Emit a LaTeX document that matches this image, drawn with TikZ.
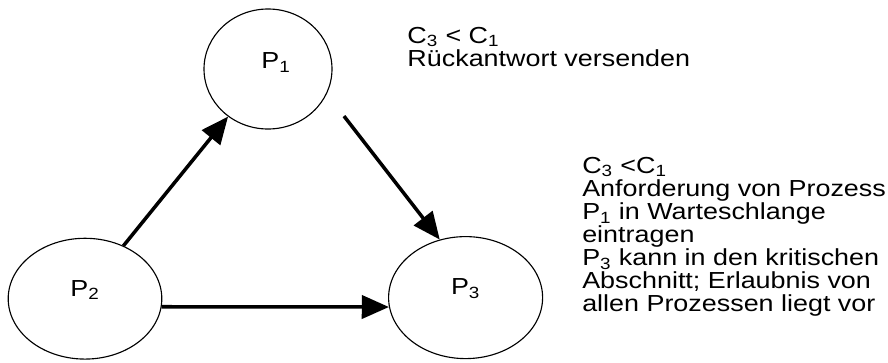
\documentclass[tikz,border=0pt]{standalone}
\usepackage{fontspec}
\setmainfont[FakeStretch=1.16]{Liberation Sans}
\usetikzlibrary{arrows.meta,shapes.geometric}

\begin{document}
\begin{tikzpicture}[>={Triangle[length=0.68cm,width=0.58cm]},
    font=\fontsize{16.5}{16.4}\selectfont,
    proc/.style={draw, ellipse, line width=0.8pt, inner sep=0pt},
    msg/.style={->, line width=2.5pt},
    note/.style={align=left, inner sep=0pt, anchor=north west}]
    \useasboundingbox (0,0) rectangle (22.2,9.05);

    % Prozesse
    \node[proc, minimum width=3.2cm, minimum height=3.0cm,
          label={[xshift=0.2cm, yshift=0.16cm]center:P\textsubscript{1}}] (P1) at (6.7, 7.325) {};
    \node[proc, minimum width=3.84cm, minimum height=3.02cm,
          label={[yshift=0.22cm]center:P\textsubscript{2}}] (P2) at (2.125, 1.583) {};
    \node[proc, minimum width=3.85cm, minimum height=3.05cm,
          label={[yshift=0.22cm]center:P\textsubscript{3}}] (P3) at (11.64, 1.61) {};

    % Nachrichten
    \draw[msg] (P2.54) -- (P1.230);
    \draw[msg, shorten <=0.7cm] (P1.-23) -- (P3.114);
    \draw[msg] (P2.-6) -- (P3.187);

    % Bedingungen
    \node[note] (n1) at (10.18, 8.38) {C\textsubscript{3} < C\textsubscript{1}\\Rückantwort versenden};
    \node[note] (n3) at (14.55, 5.13) {C\textsubscript{3} <C\textsubscript{1}\\Anforderung von Prozess\\P\textsubscript{1} in Warteschlange\\eintragen\\P\textsubscript{3} kann in den kritischen\\Abschnitt; Erlaubnis von\\allen Prozessen liegt vor};
\end{tikzpicture}
\end{document}
